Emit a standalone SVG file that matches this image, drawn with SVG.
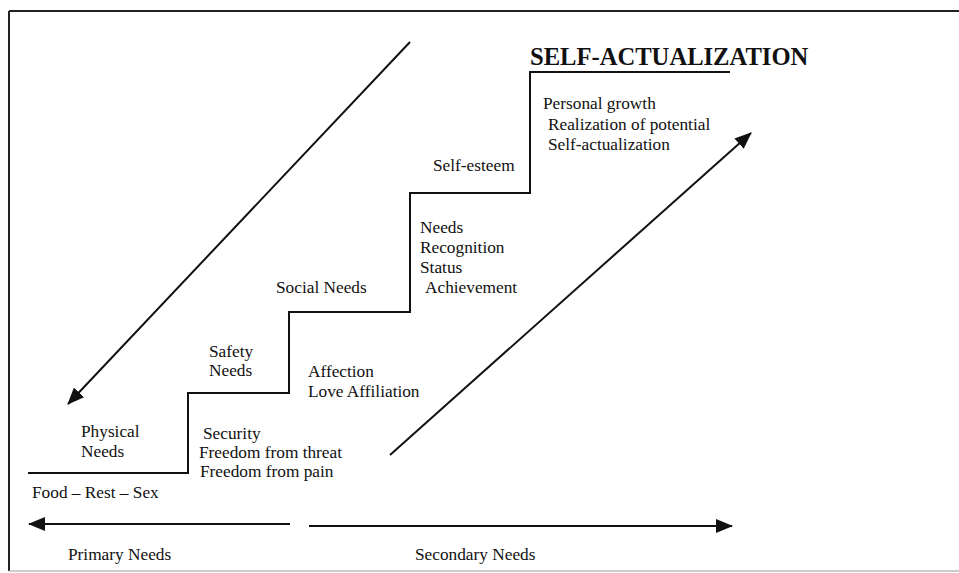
<svg xmlns="http://www.w3.org/2000/svg" width="959" height="573" viewBox="0 0 959 573">
  <defs>
    <style>
      .t { font-family: "Liberation Serif", "Times New Roman", serif; font-size: 17.3px; fill: #111; }
      .title { font-family: "Liberation Serif", "Times New Roman", serif; font-size: 24.6px; font-weight: bold; fill: #111; }
      .ln { fill: none; stroke: #111; stroke-width: 2; }
      .frame { fill: none; stroke: #222; stroke-width: 2; }
      .frame-faint { fill: none; stroke: #bbb; stroke-width: 1.5; }
    </style>
    <marker id="head" markerUnits="userSpaceOnUse" markerWidth="18" markerHeight="14" refX="16" refY="7" orient="auto">
      <path d="M0,0 L17,7 L0,14 Z" fill="#111"/>
    </marker>
  </defs>

  <rect width="959" height="573" fill="#fff"/>

  <!-- page frame -->
  <g id="frame">
    <path class="frame" d="M9,11 H959 M9,11 V571"/>
    <path class="frame-faint" d="M9,571 H959"/>
  </g>

  <!-- staircase of needs -->
  <g id="staircase">
    <path class="ln" d="M28,473 H188 V393 H289 V312 H410 V193 H530 V72 H730"/>
  </g>

  <g id="connectors">
    <line class="ln" x1="410" y1="42" x2="68" y2="404" marker-end="url(#head)"/>
    <line class="ln" x1="390" y1="455" x2="751" y2="133" marker-end="url(#head)"/>
    <line class="ln" x1="290" y1="524" x2="29" y2="524" marker-end="url(#head)"/>
    <line class="ln" x1="309" y1="526" x2="732" y2="526" marker-end="url(#head)"/>
  </g>

  <g id="self-actualization">
    <text class="title" x="530" y="65">SELF-ACTUALIZATION</text>
    <text class="t" x="543" y="109">Personal growth</text>
    <text class="t" x="548" y="130">Realization of potential</text>
    <text class="t" x="548" y="150">Self-actualization</text>
  </g>

  <g id="self-esteem">
    <text class="t" x="433" y="171">Self-esteem</text>
    <text class="t" x="420" y="233">Needs</text>
    <text class="t" x="420" y="253">Recognition</text>
    <text class="t" x="420" y="273">Status</text>
    <text class="t" x="425" y="293">Achievement</text>
  </g>

  <g id="social-needs">
    <text class="t" x="276" y="293">Social Needs</text>
    <text class="t" x="308" y="377">Affection</text>
    <text class="t" x="308" y="397">Love Affiliation</text>
  </g>

  <g id="safety-needs">
    <text class="t" x="209" y="357">Safety</text>
    <text class="t" x="209" y="376">Needs</text>
    <text class="t" x="203" y="439">Security</text>
    <text class="t" x="199" y="458">Freedom from threat</text>
    <text class="t" x="200" y="477">Freedom from pain</text>
  </g>

  <g id="physical-needs">
    <text class="t" x="81" y="437">Physical</text>
    <text class="t" x="81" y="457">Needs</text>
    <text class="t" x="32" y="498">Food – Rest – Sex</text>
  </g>

  <g id="primary-needs">
    <text class="t" x="68" y="560">Primary Needs</text>
  </g>

  <g id="secondary-needs">
    <text class="t" x="415" y="560">Secondary Needs</text>
  </g>
</svg>
